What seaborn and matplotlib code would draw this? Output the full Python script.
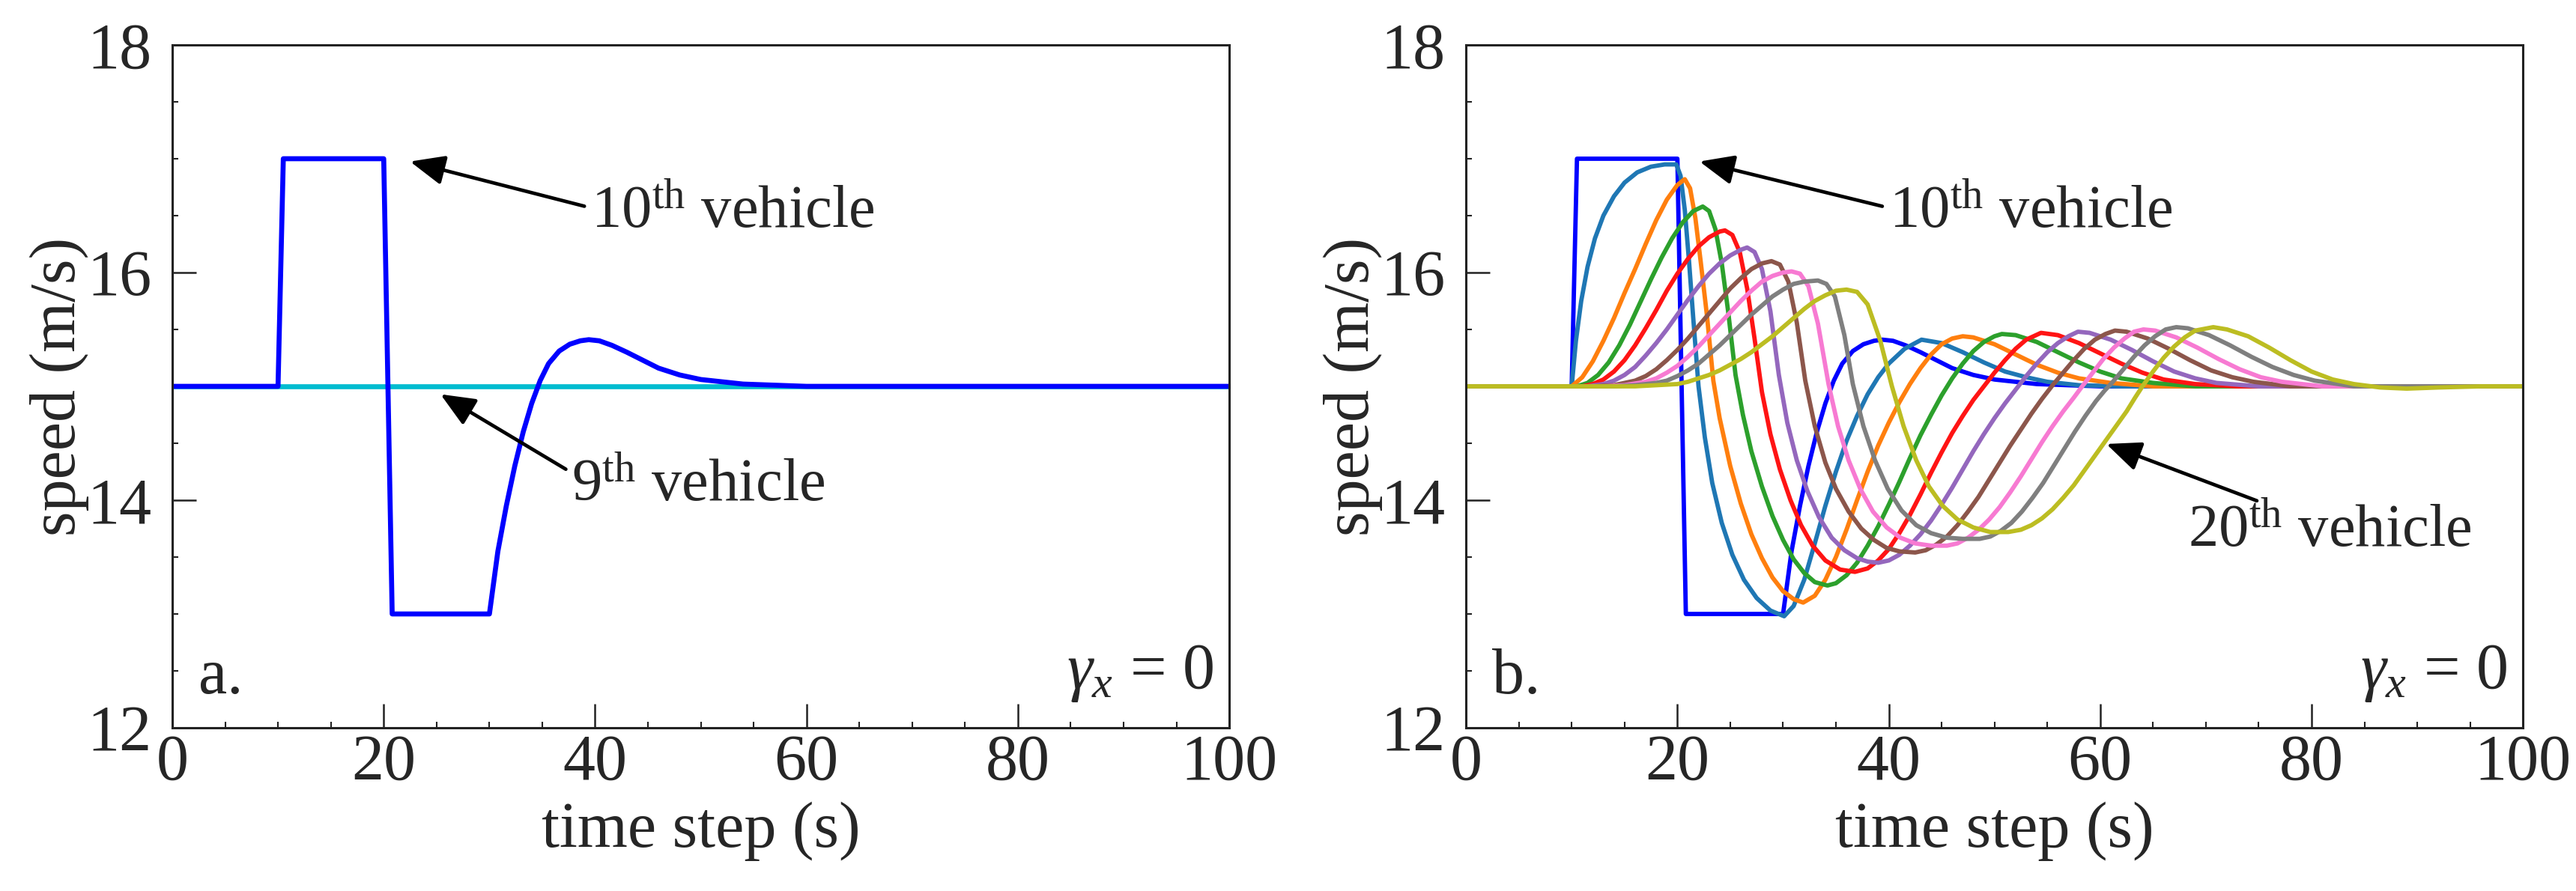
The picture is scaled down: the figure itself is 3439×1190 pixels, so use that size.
import numpy as np
import pandas as pd
import seaborn as sns
import matplotlib.pyplot as plt
from matplotlib.ticker import MultipleLocator

#%% data: (time, speed) pairs per vehicle
veh09 = [(0, 15), (100, 15)]
veh10 = [(0, 15), (10, 15), (10.5, 17), (20, 17), (20.8, 13), (30, 13), (30.8, 13.55), (31.6, 13.95),
         (32.4, 14.3), (33.2, 14.6), (34.0, 14.85), (34.8, 15.05), (35.6, 15.2), (36.6, 15.31),
         (37.6, 15.37), (38.6, 15.4), (39.4, 15.41), (40.4, 15.4), (41.6, 15.36), (43, 15.3),
         (44.5, 15.23), (46, 15.16), (48, 15.1), (50, 15.06), (52, 15.04), (54, 15.02), (57, 15.01),
         (60, 15.0), (100, 15)]
veh11 = [(0, 15), (10, 15), (10.4, 15.4), (10.9, 15.75), (11.5, 16.05), (12.2, 16.3), (13.0, 16.5),
         (14.0, 16.67), (15.0, 16.79), (16.2, 16.88), (17.5, 16.93), (18.8, 16.95), (19.9, 16.95),
         (20.3, 16.85), (20.7, 16.55), (21.1, 16.1), (21.5, 15.6), (22.0, 15.0), (22.6, 14.55),
         (23.3, 14.15), (24.2, 13.8), (25.2, 13.52), (26.3, 13.3), (27.5, 13.14), (28.8, 13.03),
         (30.1, 12.98), (31.0, 13.07), (32.0, 13.3), (33.0, 13.62), (34.0, 13.95), (35.0, 14.25),
         (36.0, 14.52), (37.0, 14.74), (38.0, 14.93), (39.0, 15.08), (40.0, 15.2), (41.5, 15.33),
         (43.1, 15.41), (45.0, 15.38), (47.0, 15.3), (49.0, 15.21), (51.0, 15.13), (53.0, 15.08),
         (55.0, 15.04), (58.0, 15.01), (62.0, 15.0), (100, 15)]
veh12 = [(0, 15), (10, 15), (11, 15.08), (12, 15.22), (13, 15.4), (14, 15.6), (15, 15.82), (16, 16.03),
         (17, 16.25), (18, 16.46), (19, 16.64), (20, 16.77), (20.7, 16.82), (21.2, 16.74), (21.7, 16.48),
         (22.2, 16.1), (22.8, 15.62), (23.4, 15.05), (24.0, 14.72), (25.0, 14.3), (26.0, 13.97),
         (27.0, 13.7), (28.0, 13.49), (29.0, 13.32), (30.0, 13.2), (31.0, 13.13), (31.9, 13.1),
         (33.0, 13.16), (34.0, 13.3), (35.0, 13.5), (36.0, 13.74), (37.0, 14.0), (38.0, 14.25),
         (39.0, 14.48), (40.0, 14.68), (41.0, 14.86), (42.0, 15.02), (43.0, 15.16), (44.0, 15.28),
         (45.0, 15.37), (46.0, 15.42), (47.0, 15.44), (48.0, 15.43), (50.0, 15.37), (52.0, 15.28),
         (54.0, 15.19), (56.0, 15.12), (58.0, 15.07), (61.0, 15.03), (65.0, 15.0), (100, 15)]
veh13 = [(0, 15), (10.5, 15), (11.5, 15.03), (12.5, 15.1), (13.5, 15.21), (14.5, 15.36), (15.5, 15.54),
         (16.5, 15.74), (17.5, 15.94), (18.5, 16.13), (19.5, 16.3), (20.5, 16.44), (21.5, 16.54),
         (22.4, 16.58), (23.0, 16.54), (23.6, 16.38), (24.2, 16.08), (24.8, 15.66), (25.5, 15.1),
         (26.2, 14.75), (27.0, 14.43), (28.0, 14.12), (29.0, 13.86), (30.0, 13.65), (31.0, 13.48),
         (32.0, 13.36), (33.0, 13.28), (34.2, 13.25), (35.0, 13.27), (36.0, 13.34), (37.0, 13.45),
         (38.0, 13.6), (39.0, 13.77), (40.0, 13.96), (41.0, 14.16), (42.0, 14.37), (43.0, 14.57),
         (44.0, 14.75), (45.0, 14.92), (46.0, 15.07), (47.0, 15.2), (48.0, 15.31), (49.0, 15.39),
         (50.0, 15.44), (50.7, 15.46), (52.0, 15.45), (54.0, 15.39), (56.0, 15.3), (58.0, 15.21),
         (60.0, 15.13), (62.0, 15.07), (65.0, 15.03), (69.0, 15.0), (100, 15)]
veh14 = [(0, 15), (11, 15), (12, 15.02), (13, 15.06), (14, 15.13), (15, 15.23), (16, 15.36), (17, 15.51),
         (18, 15.67), (19, 15.84), (20, 15.99), (21, 16.12), (22, 16.23), (23, 16.31), (24, 16.36),
         (24.5, 16.37), (25.2, 16.33), (25.9, 16.18), (26.6, 15.86), (27.3, 15.42), (28.0, 14.95),
         (28.8, 14.58), (29.7, 14.27), (30.7, 14.0), (31.7, 13.78), (32.8, 13.6), (34.0, 13.47),
         (35.4, 13.39), (36.8, 13.37), (38.0, 13.4), (39.0, 13.47), (40.0, 13.57), (41.0, 13.71),
         (42.0, 13.87), (43.0, 14.05), (44.0, 14.24), (45.0, 14.42), (46.0, 14.59), (47.0, 14.74),
         (48.0, 14.88), (49.0, 15.0), (50.0, 15.12), (51.0, 15.23), (52.0, 15.33), (53.0, 15.41),
         (54.4, 15.47), (56.0, 15.45), (58.0, 15.38), (60.0, 15.29), (62.0, 15.2), (64.0, 15.12),
         (66.0, 15.06), (69.0, 15.02), (73.0, 15.0), (100, 15)]
veh15 = [(0, 15), (11.5, 15), (13, 15.02), (14, 15.05), (15, 15.1), (16, 15.17), (17, 15.27), (18, 15.38),
         (19, 15.5), (20, 15.63), (21, 15.76), (22, 15.88), (23, 15.99), (24, 16.08), (25, 16.15),
         (26, 16.2), (26.6, 16.22), (27.3, 16.18), (28.0, 16.03), (28.8, 15.66), (29.6, 15.1),
         (30.4, 14.68), (31.3, 14.35), (32.3, 14.08), (33.4, 13.85), (34.6, 13.67), (35.8, 13.56),
         (37.0, 13.49), (38.0, 13.46), (39.0, 13.45), (40.0, 13.47), (41.0, 13.52), (42.0, 13.6),
         (43.0, 13.7), (44.0, 13.82), (45.0, 13.96), (46.0, 14.11), (47.0, 14.27), (48.0, 14.43),
         (49.0, 14.58), (50.0, 14.72), (51.0, 14.85), (52.0, 14.97), (53.0, 15.09), (54.0, 15.2),
         (55.0, 15.3), (56.0, 15.38), (57.0, 15.44), (57.9, 15.48), (59.0, 15.47), (61.0, 15.41),
         (63.0, 15.32), (65.0, 15.22), (67.0, 15.13), (69.0, 15.07), (71.0, 15.03), (75.0, 15.0), (100, 15)]
veh16 = [(0, 15), (12, 15), (14, 15.01), (16, 15.05), (17, 15.09), (18, 15.15), (19, 15.23), (20, 15.32),
         (21, 15.42), (22, 15.53), (23, 15.64), (24, 15.75), (25, 15.86), (26, 15.95), (27, 16.03),
         (28, 16.08), (28.9, 16.1), (29.7, 16.07), (30.5, 15.92), (31.3, 15.56), (32.1, 15.05),
         (33.0, 14.65), (34.0, 14.33), (35.0, 14.1), (36.2, 13.9), (37.4, 13.75), (38.6, 13.65),
         (39.8, 13.58), (41.0, 13.55), (42.5, 13.54), (43.5, 13.56), (44.5, 13.61), (45.5, 13.68),
         (46.5, 13.78), (47.5, 13.9), (48.5, 14.03), (49.5, 14.18), (50.5, 14.33), (51.5, 14.48),
         (52.5, 14.62), (53.5, 14.76), (54.5, 14.89), (55.5, 15.01), (56.5, 15.12), (57.5, 15.23),
         (58.5, 15.33), (59.5, 15.41), (60.5, 15.46), (61.4, 15.49), (62.5, 15.48), (64.5, 15.42),
         (66.5, 15.33), (68.5, 15.23), (70.5, 15.14), (72.5, 15.08), (74.5, 15.04), (78, 15.0), (100, 15)]
veh17 = [(0, 15), (13, 15), (15, 15.01), (17, 15.04), (18, 15.07), (19, 15.12), (20, 15.18), (21, 15.26),
         (22, 15.35), (23, 15.45), (24, 15.55), (25, 15.65), (26, 15.75), (27, 15.84), (28, 15.92),
         (29, 15.97), (30, 16.0), (30.8, 16.01), (31.6, 15.99), (32.4, 15.88), (33.3, 15.55),
         (34.3, 15.02), (35.2, 14.65), (36.2, 14.35), (37.3, 14.1), (38.5, 13.9), (39.8, 13.76),
         (41.1, 13.67), (42.5, 13.62), (44.0, 13.6), (45.5, 13.6), (46.5, 13.62), (47.5, 13.67),
         (48.5, 13.74), (49.5, 13.83), (50.5, 13.94), (51.5, 14.07), (52.5, 14.21), (53.5, 14.36),
         (54.5, 14.51), (55.5, 14.65), (56.5, 14.78), (57.5, 14.9), (58.3, 15.0), (59.3, 15.12),
         (60.3, 15.24), (61.3, 15.34), (62.3, 15.42), (63.2, 15.48), (64.1, 15.5), (65.2, 15.49),
         (67.2, 15.43), (69.2, 15.34), (71.2, 15.24), (73.2, 15.15), (75.2, 15.08), (77.2, 15.04),
         (81, 15.0), (100, 15)]
veh18 = [(0, 15), (14, 15), (16, 15.01), (18, 15.03), (19, 15.05), (20, 15.09), (21, 15.14), (22, 15.2),
         (23, 15.28), (24, 15.36), (25, 15.45), (26, 15.54), (27, 15.63), (28, 15.71), (29, 15.79),
         (30, 15.85), (31, 15.9), (32, 15.92), (33.3, 15.93), (34.1, 15.9), (34.9, 15.79), (35.8, 15.45),
         (36.6, 15.02), (37.6, 14.65), (38.7, 14.35), (39.9, 14.1), (41.2, 13.91), (42.6, 13.78),
         (44.0, 13.71), (45.5, 13.67), (47.0, 13.66), (48.6, 13.66), (49.6, 13.68), (50.6, 13.73),
         (51.6, 13.8), (52.6, 13.9), (53.6, 14.02), (54.6, 14.15), (55.6, 14.3), (56.6, 14.45),
         (57.6, 14.6), (58.6, 14.74), (59.6, 14.87), (60.4, 14.96), (61.2, 15.04), (62.2, 15.15),
         (63.2, 15.26), (64.2, 15.36), (65.2, 15.44), (66.2, 15.5), (67.2, 15.52), (68.3, 15.51),
         (70.3, 15.45), (72.3, 15.36), (74.3, 15.26), (76.3, 15.17), (78.3, 15.1), (80.3, 15.05),
         (84, 15.0), (100, 15)]
veh20 = [(0, 15), (16, 15), (18, 15.01), (20, 15.02), (21, 15.04), (22, 15.07), (23, 15.1), (24, 15.14),
         (25, 15.19), (26, 15.24), (27, 15.3), (28, 15.37), (29, 15.44), (30, 15.52), (31, 15.6),
         (32, 15.68), (33, 15.75), (34, 15.8), (35, 15.84), (36, 15.85), (37, 15.83), (38, 15.72),
         (39.2, 15.4), (40.3, 15.0), (41.4, 14.65), (42.6, 14.35), (43.8, 14.12), (45.1, 13.95),
         (46.5, 13.83), (48.0, 13.76), (49.6, 13.72), (51.3, 13.72), (52.5, 13.74), (53.5, 13.78),
         (54.5, 13.84), (55.5, 13.92), (56.5, 14.02), (57.5, 14.13), (58.5, 14.26), (59.5, 14.39),
         (60.5, 14.52), (61.5, 14.65), (62.5, 14.78), (63.3, 14.9), (64.0, 15.0), (65.0, 15.13),
         (66.0, 15.25), (67.0, 15.35), (68.0, 15.43), (69.0, 15.49), (70.7, 15.52), (72.0, 15.5),
         (74.0, 15.44), (76.0, 15.34), (78.0, 15.23), (80.0, 15.13), (82.0, 15.06), (84.0, 15.02),
         (86.5, 14.99), (89.0, 14.98), (92.0, 14.99), (96.0, 15.0), (100, 15)]

panel_b = [veh10, veh11, veh12, veh13, veh14, veh15, veh16, veh17, veh18, veh20]
colors_b = ['#0000ff', '#1f77b4', '#ff7f0e', '#2ca02c', '#ff1414',
            '#9467bd', '#8c564b', '#f77ad2', '#7f7f7f', '#bcbd22']

#%% style
sns.set_style('ticks')
plt.rcParams['font.family'] = ['Liberation Serif', 'DejaVu Serif']
plt.rcParams['mathtext.fontset'] = 'custom'
plt.rcParams['mathtext.rm'] = 'Liberation Serif'
plt.rcParams['mathtext.it'] = 'Liberation Serif:italic'

fig = plt.figure(figsize=(34.39, 11.9), dpi=100)
ax_a = fig.add_axes([0.0669, 0.1832, 0.4103, 0.7664])
ax_b = fig.add_axes([0.5691, 0.1832, 0.4103, 0.7664])


def draw(ax, pairs, color, lw):
    df = pd.DataFrame(pairs, columns=['t', 'v'])
    sns.lineplot(data=df, x='t', y='v', color=color, lw=lw, ax=ax,
                 estimator=None, sort=False)


def arrow(ax, text, tip, pos, relpos):
    ax.annotate(text, xy=tip, xytext=pos, fontsize=58, ha='left', va='center',
                arrowprops=dict(arrowstyle='-|>,head_length=0.7,head_width=0.3',
                                color='k', lw=3.4, mutation_scale=40,
                                relpos=relpos, shrinkA=4, shrinkB=2))


def frame(ax, tag):
    ax.set_xlim(0, 100)
    ax.set_ylim(12, 18)
    ax.set_xticks(np.arange(0, 101, 20))
    ax.set_yticks(np.arange(12, 19, 2))
    ax.xaxis.set_minor_locator(MultipleLocator(5))
    ax.yaxis.set_minor_locator(MultipleLocator(0.5))
    ax.tick_params(which='major', direction='in', length=23, width=1.8,
                   labelsize=62, color='#222222')
    ax.tick_params(axis='x', which='major', pad=6)
    ax.tick_params(axis='y', which='major', pad=20)
    ax.tick_params(which='minor', direction='in', length=6, width=1.5, color='#222222')
    for s in ax.spines.values():
        s.set_visible(True)
        s.set_linewidth(2.2)
        s.set_color('#222222')
    ax.set_xlabel('time step (s)', fontsize=62, labelpad=8)
    ax.set_ylabel('speed (m/s)', fontsize=62, labelpad=-2)
    ax.text(2.5, 12.3, tag, fontsize=62, ha='left', va='baseline')
    ax.text(98.5, 12.35, r'$\gamma_x$ = 0', fontsize=62, ha='right', va='baseline')


#%% panel a
draw(ax_a, veh09, '#00bcd0', 4.8)
draw(ax_a, veh10, '#0000ff', 4.8)
frame(ax_a, 'a.')
arrow(ax_a, r'10$^{\mathrm{th}}$ vehicle', (22.3, 16.98), (39.6, 16.52), (0, 0.6))
arrow(ax_a, r'9$^{\mathrm{th}}$ vehicle', (25.2, 14.94), (37.8, 14.12), (0, 0.75))

#%% panel b
for pairs, c in zip(panel_b, colors_b):
    draw(ax_b, pairs, c, 4.2)
frame(ax_b, 'b.')
arrow(ax_b, r'10$^{\mathrm{th}}$ vehicle', (21.9, 16.98), (40.0, 16.52), (0, 0.6))
arrow(ax_b, r'20$^{\mathrm{th}}$ vehicle', (60.4, 14.5), (68.3, 13.72), (0.28, 1.0))

fig.savefig('out.png', dpi=100)
